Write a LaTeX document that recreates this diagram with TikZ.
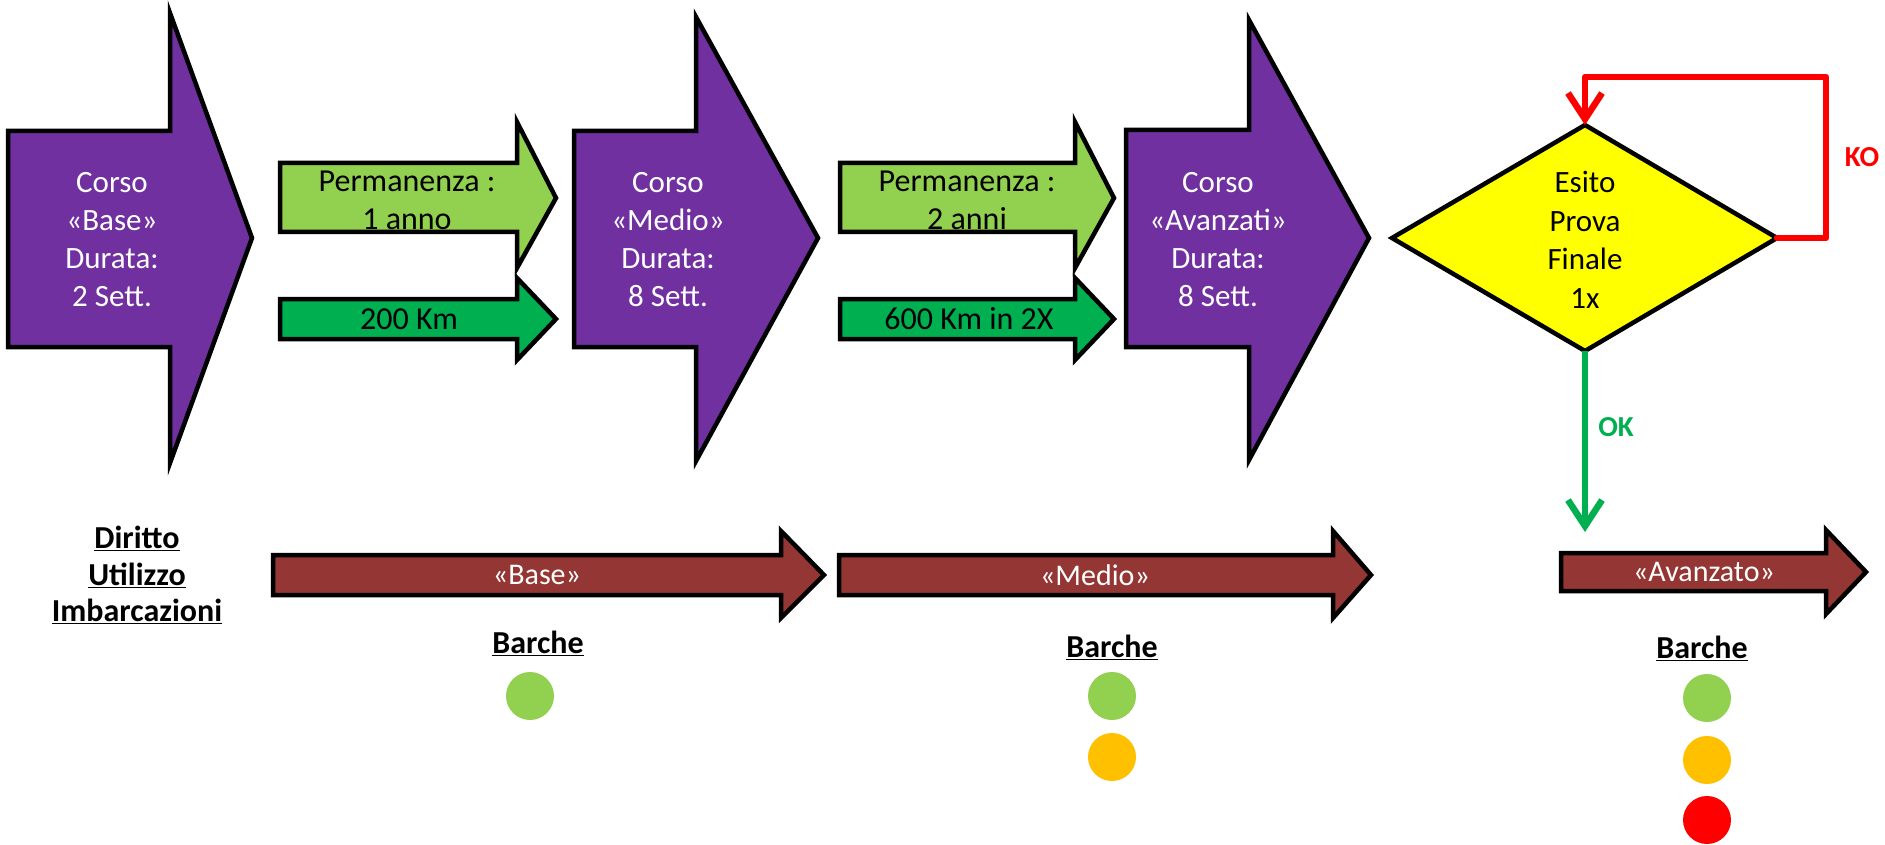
\documentclass[tikz,border=0pt]{standalone}
\usepackage{fontspec}
\setmainfont{Carlito}
\usetikzlibrary{arrows.meta}
\definecolor{cpurple}{HTML}{7030A0}
\definecolor{clgreen}{HTML}{92D050}
\definecolor{cdgreen}{HTML}{00B050}
\definecolor{cbrown}{HTML}{943634}
\definecolor{cyellow}{HTML}{FFFF00}
\definecolor{cred}{HTML}{FF0000}
\definecolor{corange}{HTML}{FFC000}
\begin{document}
\begin{tikzpicture}[x=1pt,y=-1pt,
  blk/.style={draw=black, line width=4.5pt, line join=miter},
  bigtxt/.style={align=center, text=white, font=\fontsize{31}{38}\selectfont, inner sep=0},
  grtxt/.style={align=center, text=black, font=\fontsize{32}{38}\selectfont, inner sep=0},
  brtxt/.style={text=white, font=\fontsize{30}{35}\selectfont, inner sep=0},
  hdr/.style={align=center, font=\fontsize{32}{38}\selectfont\bfseries, inner sep=0},
  dot/.style={circle, minimum size=48pt, inner sep=0},
  flow/.style={line width=6.5pt, -{Straight Barb[length=26pt,width=34pt,line width=6.5pt]}}]
\useasboundingbox (0,0) rectangle (1885,845);

% purple course arrows
\path[blk, fill=cpurple] (8,131) -- (170,131) -- (170,13) -- (252,238) -- (170,463) -- (170,347) -- (8,347) -- cycle;
\path[blk, fill=cpurple] (574,131) -- (696,131) -- (696,17) -- (818,238) -- (696,461) -- (696,347) -- (574,347) -- cycle;
\path[blk, fill=cpurple] (1126,130) -- (1249,130) -- (1249,20) -- (1369,238) -- (1249,460) -- (1249,347) -- (1126,347) -- cycle;

\node[bigtxt] (c1) at (112,240) {Corso\\«Base»\\Durata:\\2 Sett.};
\node[bigtxt] (c2) at (668,240) {Corso\\«Medio»\\Durata:\\8 Sett.};
\node[bigtxt] (c3) at (1218,240) {Corso\\«Avanzati»\\Durata:\\8 Sett.};

% green requirement arrows
\path[blk, fill=clgreen] (280,163) -- (517,163) -- (517,122) -- (556,198) -- (517,268) -- (517,232) -- (280,232) -- cycle;
\path[blk, fill=cdgreen] (280,299) -- (517,299) -- (517,278) -- (556,319) -- (517,360) -- (517,339) -- (280,339) -- cycle;
\path[blk, fill=clgreen] (840,163) -- (1075,163) -- (1075,122) -- (1114,198) -- (1075,268) -- (1075,232) -- (840,232) -- cycle;
\path[blk, fill=cdgreen] (840,299) -- (1075,299) -- (1075,278) -- (1114,319) -- (1075,360) -- (1075,339) -- (840,339) -- cycle;

\node[grtxt] (p1) at (407,200) {Permanenza :\\1 anno};
\node[grtxt] (k1) at (409,319) {200 Km};
\node[grtxt] (p2) at (967,200) {Permanenza :\\2 anni};
\node[grtxt] (k2) at (969,319) {600 Km in 2X};

% decision diamond
\path[blk, fill=cyellow] (1392,238) -- (1585,125) -- (1777,238) -- (1585,351) -- cycle;
\coordinate (dL) at (1392,238);
\coordinate (dT) at (1585,125);
\coordinate (dR) at (1777,238);
\coordinate (dB) at (1585,351);
\node[grtxt, font=\fontsize{31}{38.5}\selectfont] (esito) at (1585,240) {Esito\\Prova\\Finale\\1x};

% KO loop
\draw[flow, draw=cred, line join=round, line cap=round] (dR) -- (1826,238) -- (1826,77) -- (1585,77) -- (dT);
\node[text=cred, font=\fontsize{29}{35}\selectfont\bfseries, inner sep=0] (ko) at (1862,157) {KO};

% OK branch
\coordinate (okend) at (1585,532);
\draw[flow, draw=cdgreen] (dB) -- (okend);
\node[text=cdgreen, font=\fontsize{29}{35}\selectfont\bfseries, inner sep=0] (ok) at (1616,427) {OK};

% brown usage arrows
\path[blk, fill=cbrown] (273,555) -- (781,555) -- (781,531) -- (824,575) -- (781,618) -- (781,595) -- (273,595) -- cycle;
\path[blk, fill=cbrown] (839,555) -- (1333,555) -- (1333,531) -- (1371,575) -- (1333,618) -- (1333,595) -- (839,595) -- cycle;
\path[blk, fill=cbrown] (1561,553) -- (1826,553) -- (1826,530) -- (1866,572) -- (1826,614) -- (1826,591) -- (1561,591) -- cycle;

\node[brtxt] (u1) at (537,575) {«Base»};
\node[brtxt] (u2) at (1095,575) {«Medio»};
\node[brtxt] (u3) at (1704,572) {«Avanzato»};

% headers
\node[hdr] (dir1) at (137,538) {\underline{Diritto}};
\node[hdr] (dir2) at (137,575) {\underline{Utilizzo}};
\node[hdr] (dir3) at (137,611) {\underline{Imbarcazioni}};

\node[hdr] (b1) at (538,643) {\underline{Barche}};
\node[hdr] (b2) at (1112,647) {\underline{Barche}};
\node[hdr] (b3) at (1702,648) {\underline{Barche}};

% boat dots
\node[dot, fill=clgreen] (g1) at (530,696) {};
\node[dot, fill=clgreen] (g2) at (1112,696) {};
\node[dot, fill=corange] (o2) at (1112,757) {};
\node[dot, fill=clgreen] (g3) at (1707,698) {};
\node[dot, fill=corange] (o3) at (1707,760) {};
\node[dot, fill=cred] (r3) at (1707,820) {};
\end{tikzpicture}
\end{document}
